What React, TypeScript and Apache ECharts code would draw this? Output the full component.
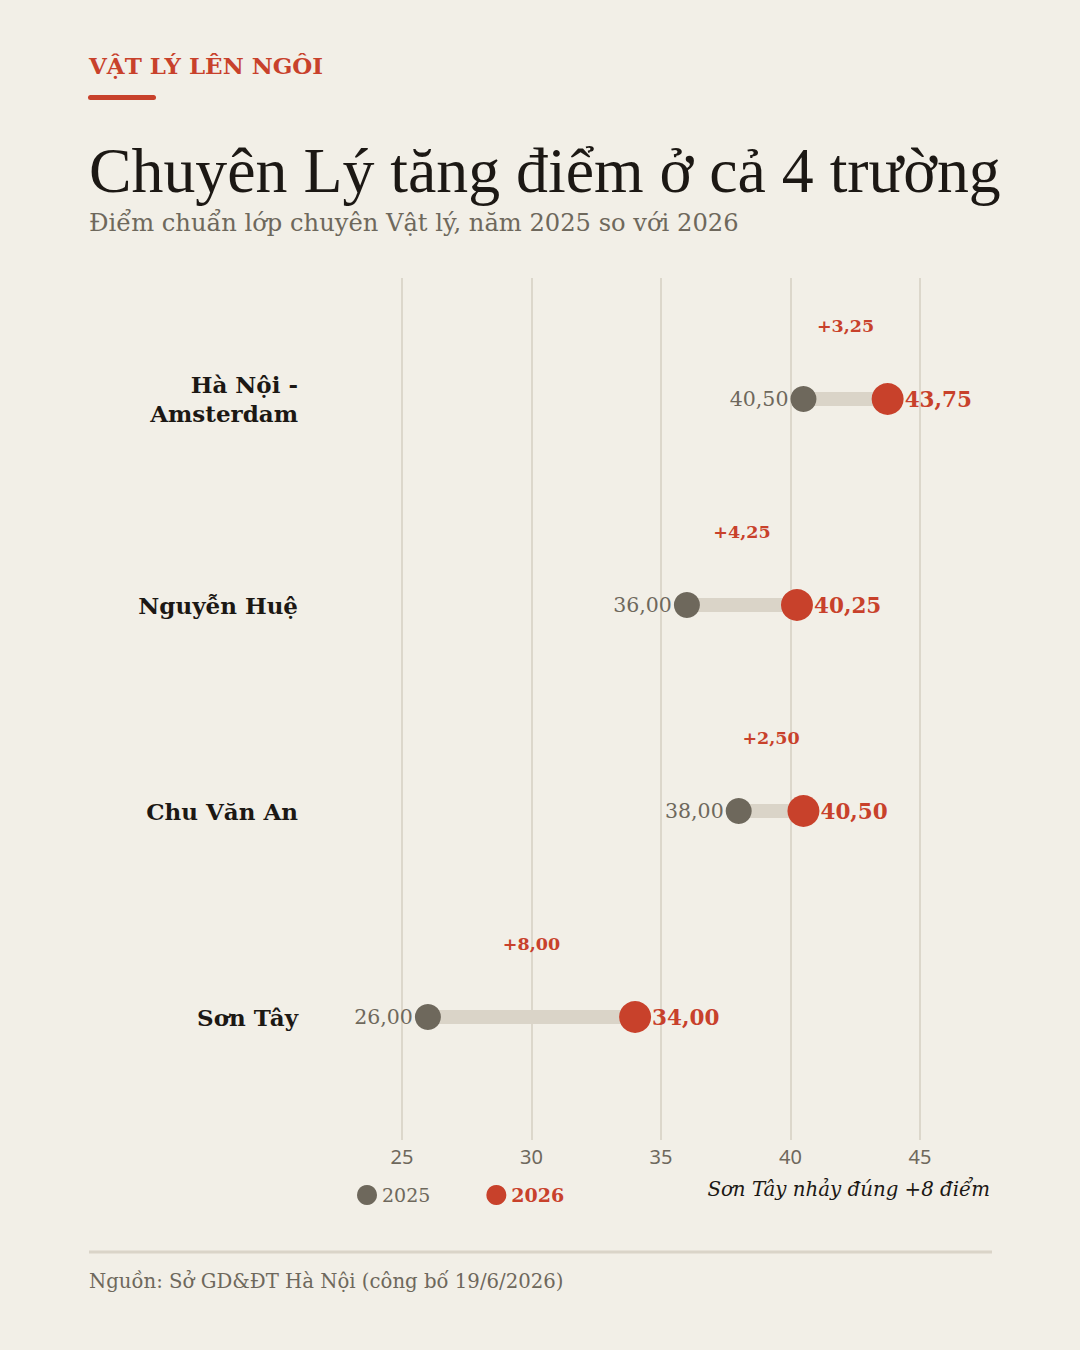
import React, { useEffect, useRef } from "react";
import * as echarts from "echarts";

const categories = ["Hà Nội -\nAmsterdam", "Nguyễn Huệ", "Chu Văn An", "Sơn Tây"];
const scores2025 = [40.5, 36, 38, 26];
const scores2026 = [43.75, 40.25, 40.5, 34];
const xTicks = [25, 30, 35, 40, 45];
const seriesNames = ["2025", "2026"];

const BG = "#f2efe7";
const RED = "#c8412b";
const GREY = "#6e685c";
const INK = "#1c1814";
const TRACK = "#dad4c8";
const GRIDC = "#dcd7cb";
const SERIF = "'DejaVu Serif', serif";
const TITLE_FONT = "'Liberation Serif', serif";

const fmt = (v: number) => v.toFixed(2).replace(".", ",");

export default function App() {
  const ref = useRef<HTMLDivElement>(null);
  useEffect(() => {
    document.body.style.margin = "0";
    document.body.style.background = BG;
    const chart = echarts.init(ref.current!, null, { renderer: "svg" });
    const xMin = xTicks[0];
    const xMax = xTicks[xTicks.length - 1];
    const option: any = {
      animation: false,
      backgroundColor: BG,
      grid: [
        { left: 402, top: 278, width: 518, height: 862 },
        { left: 402, top: 296, width: 518, height: 824 },
      ],
      xAxis: [
        {
          gridIndex: 0,
          type: "value",
          min: xMin,
          max: xMax,
          interval: 5,
          axisLine: { show: false },
          axisTick: { show: false },
          splitLine: { show: true, lineStyle: { color: GRIDC, width: 2 } },
          axisLabel: { color: GREY, fontSize: 20, fontFamily: "'Noto Sans', sans-serif", margin: 6 },
        },
        {
          gridIndex: 1,
          type: "value",
          min: xMin,
          max: xMax,
          show: false,
        },
      ],
      yAxis: [
        { gridIndex: 0, type: "value", show: false, min: 0, max: 1 },
        {
          gridIndex: 1,
          type: "category",
          inverse: true,
          data: categories,
          axisLine: { show: false },
          axisTick: { show: false },
          splitLine: { show: false },
          axisLabel: {
            margin: 104,
            color: INK,
            fontSize: 23,
            fontWeight: "bold",
            fontFamily: SERIF,
            lineHeight: 29,
            align: "right",
          },
        },
      ],
      legend: {
        left: 352,
        top: 1180,
        icon: "circle",
        itemWidth: 20,
        itemHeight: 20,
        itemGap: 56,
        data: [
          { name: seriesNames[0], textStyle: { color: GREY, fontSize: 19, fontFamily: SERIF } },
          { name: seriesNames[1], textStyle: { color: RED, fontSize: 19, fontWeight: "bold", fontFamily: SERIF } },
        ],
      },
      series: [
        {
          type: "custom",
          xAxisIndex: 1,
          yAxisIndex: 1,
          z: 1,
          data: categories.map((c, i) => [i, scores2025[i], scores2026[i]]),
          encode: { x: [1, 2], y: 0 },
          renderItem: (params: any, api: any) => {
            const yi = api.value(0);
            const a = api.coord([api.value(1), yi]);
            const b = api.coord([api.value(2), yi]);
            const delta = api.value(2) - api.value(1);
            return {
              type: "group",
              children: [
                {
                  type: "line",
                  shape: { x1: a[0], y1: a[1], x2: b[0], y2: b[1] },
                  style: { stroke: TRACK, lineWidth: 14 },
                },
                {
                  type: "text",
                  x: (a[0] + b[0]) / 2,
                  y: a[1] - 73,
                  style: {
                    text: "+" + fmt(delta),
                    fill: RED,
                    font: `bold 17.5px ${SERIF}`,
                    align: "center",
                    verticalAlign: "middle",
                  },
                },
              ],
            };
          },
        },
        {
          name: seriesNames[0],
          type: "scatter",
          xAxisIndex: 1,
          yAxisIndex: 1,
          z: 3,
          symbolSize: 26,
          itemStyle: { color: GREY, opacity: 1 },
          data: scores2025.map((v, i) => [v, i]),
          label: {
            show: true,
            position: "left",
            distance: 2,
            formatter: (p: any) => fmt(p.value[0]),
            color: GREY,
            fontSize: 20.5,
            fontFamily: SERIF,
          },
        },
        {
          name: seriesNames[1],
          type: "scatter",
          xAxisIndex: 1,
          yAxisIndex: 1,
          z: 4,
          symbolSize: 32,
          itemStyle: { color: RED, opacity: 1 },
          data: scores2026.map((v, i) => [v, i]),
          label: {
            show: true,
            position: "right",
            distance: 1,
            formatter: (p: any) => fmt(p.value[0]),
            color: RED,
            fontSize: 21.5,
            fontWeight: "bold",
            fontFamily: SERIF,
          },
        },
      ],
      graphic: [
        {
          type: "text",
          x: 89,
          y: 65,
          style: { text: "VẬT LÝ LÊN NGÔI", fill: RED, font: `bold 23px ${SERIF}`, verticalAlign: "middle" },
        },
        {
          type: "rect",
          shape: { x: 88, y: 95, width: 68, height: 5, r: 2.5 },
          style: { fill: RED },
        },
        {
          type: "text",
          x: 89,
          y: 170,
          style: { text: "Chuyên Lý tăng điểm ở cả 4 trường", fill: INK, font: `63.8px ${TITLE_FONT}`, verticalAlign: "middle" },
        },
        {
          type: "text",
          x: 89,
          y: 223,
          style: { text: "Điểm chuẩn lớp chuyên Vật lý, năm 2025 so với 2026", fill: GREY, font: `24.2px ${SERIF}`, verticalAlign: "middle" },
        },
        {
          type: "text",
          x: 990,
          y: 1189,
          style: { text: "Sơn Tây nhảy đúng +8 điểm", fill: INK, font: `italic 19.8px ${SERIF}`, align: "right", verticalAlign: "middle" },
        },
        {
          type: "line",
          shape: { x1: 89, y1: 1252, x2: 992, y2: 1252 },
          style: { stroke: TRACK, lineWidth: 3 },
        },
        {
          type: "text",
          x: 89,
          y: 1281,
          style: { text: "Nguồn: Sở GD&ĐT Hà Nội (công bố 19/6/2026)", fill: GREY, font: `19.7px ${SERIF}`, verticalAlign: "middle" },
        },
      ],
    };
    chart.setOption(option);
    return () => chart.dispose();
  }, []);
  return <div ref={ref} style={{ width: 1080, height: 1350, background: BG }} />;
}
